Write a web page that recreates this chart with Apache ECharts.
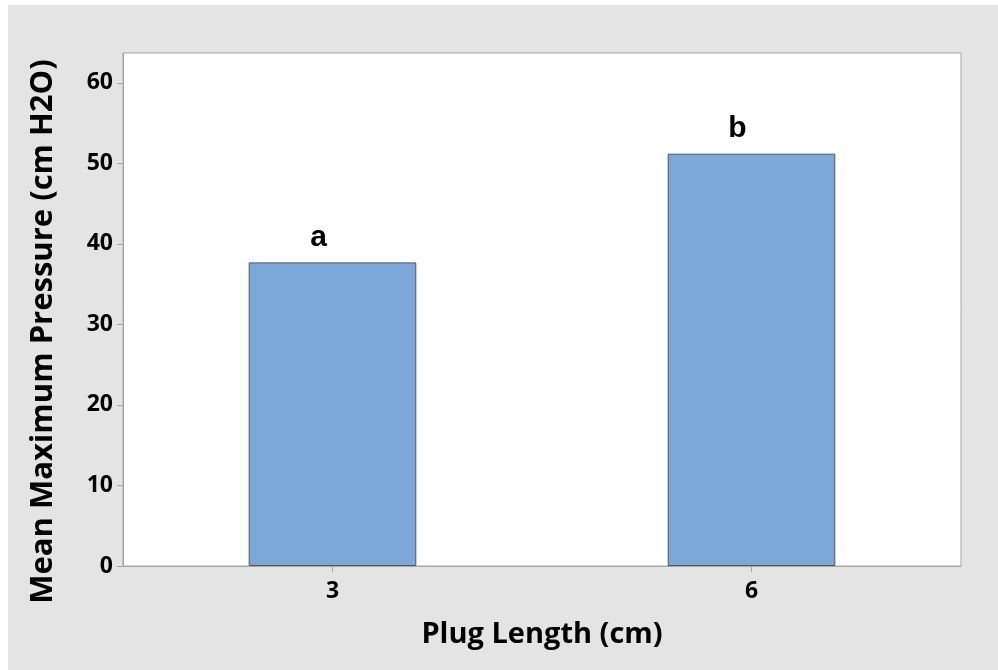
<!DOCTYPE html>
<html>
<head>
<meta charset="utf-8">
<script src="https://cdn.jsdelivr.net/npm/echarts@6/dist/echarts.min.js"></script>
<style>
  html, body { margin: 0; padding: 0; background: #ffffff; }
  #panel { position: absolute; left: 8px; top: 5px; width: 990px; height: 665px; background: #e4e4e4; }
  #chart { position: absolute; left: 0; top: 0; width: 998px; height: 670px; }
</style>
</head>
<body>
<div id="panel"></div>
<div id="chart"></div>
<script>
// Plug length groups and their mean maximum pressure
const categories = ['3', '6'];
const meanPressure = [37.7, 51.2];
const groupLetters = ['a', 'b'];
const yTicks = [0, 10, 20, 30, 40, 50, 60];

const chart = echarts.init(document.getElementById('chart'), null, { renderer: 'canvas' });

const labelFont = '"Open Sans", "Noto Sans", sans-serif';

chart.setOption({
  backgroundColor: 'transparent',
  animation: false,
  grid: {
    left: 123, right: 37, top: 53, bottom: 104,
    show: true,
    backgroundColor: '#ffffff',
    borderColor: '#a6a6a6',
    borderWidth: 1
  },
  xAxis: {
    type: 'category',
    data: categories,
    name: 'Plug Length (cm)',
    nameLocation: 'middle',
    nameGap: 54,
    nameTextStyle: { fontFamily: labelFont, fontWeight: 'bold', fontSize: 29, color: '#000' },
    axisLine: { show: true, lineStyle: { color: '#a6a6a6', width: 1 } },
    axisTick: { show: true, alignWithLabel: true, length: 6, lineStyle: { color: '#a6a6a6' } },
    axisLabel: { fontFamily: labelFont, fontWeight: 'bold', fontSize: 23, color: '#000', margin: 14 },
    splitLine: { show: false }
  },
  yAxis: {
    type: 'value',
    min: 0,
    max: 63.7,
    interval: 10,
    name: 'Mean Maximum Pressure (cm H2O)',
    nameLocation: 'middle',
    nameGap: 64,
    nameTextStyle: { fontFamily: labelFont, fontWeight: 'bold', fontSize: 31, color: '#000', padding: [0, 44, 0, 0] },
    axisLine: { show: true, lineStyle: { color: '#a6a6a6', width: 1 } },
    axisTick: { show: true, length: 6, lineStyle: { color: '#a6a6a6' }, customValues: yTicks },
    axisLabel: { fontFamily: labelFont, fontWeight: 'bold', fontSize: 23, color: '#000', margin: 10, customValues: yTicks },
    splitLine: { show: false }
  },
  series: [{
    type: 'bar',
    data: meanPressure,
    barWidth: '40%',
    itemStyle: { color: '#7ba7d9', borderColor: '#555555', borderWidth: 1 },
    label: {
      show: true,
      position: 'top',
      distance: 10,
      offset: [-14, 0],
      formatter: (p) => groupLetters[p.dataIndex],
      fontFamily: 'Arial, "Liberation Sans", sans-serif',
      fontWeight: 'bold',
      fontSize: 30,
      color: '#000'
    }
  }]
});
</script>
</body>
</html>
